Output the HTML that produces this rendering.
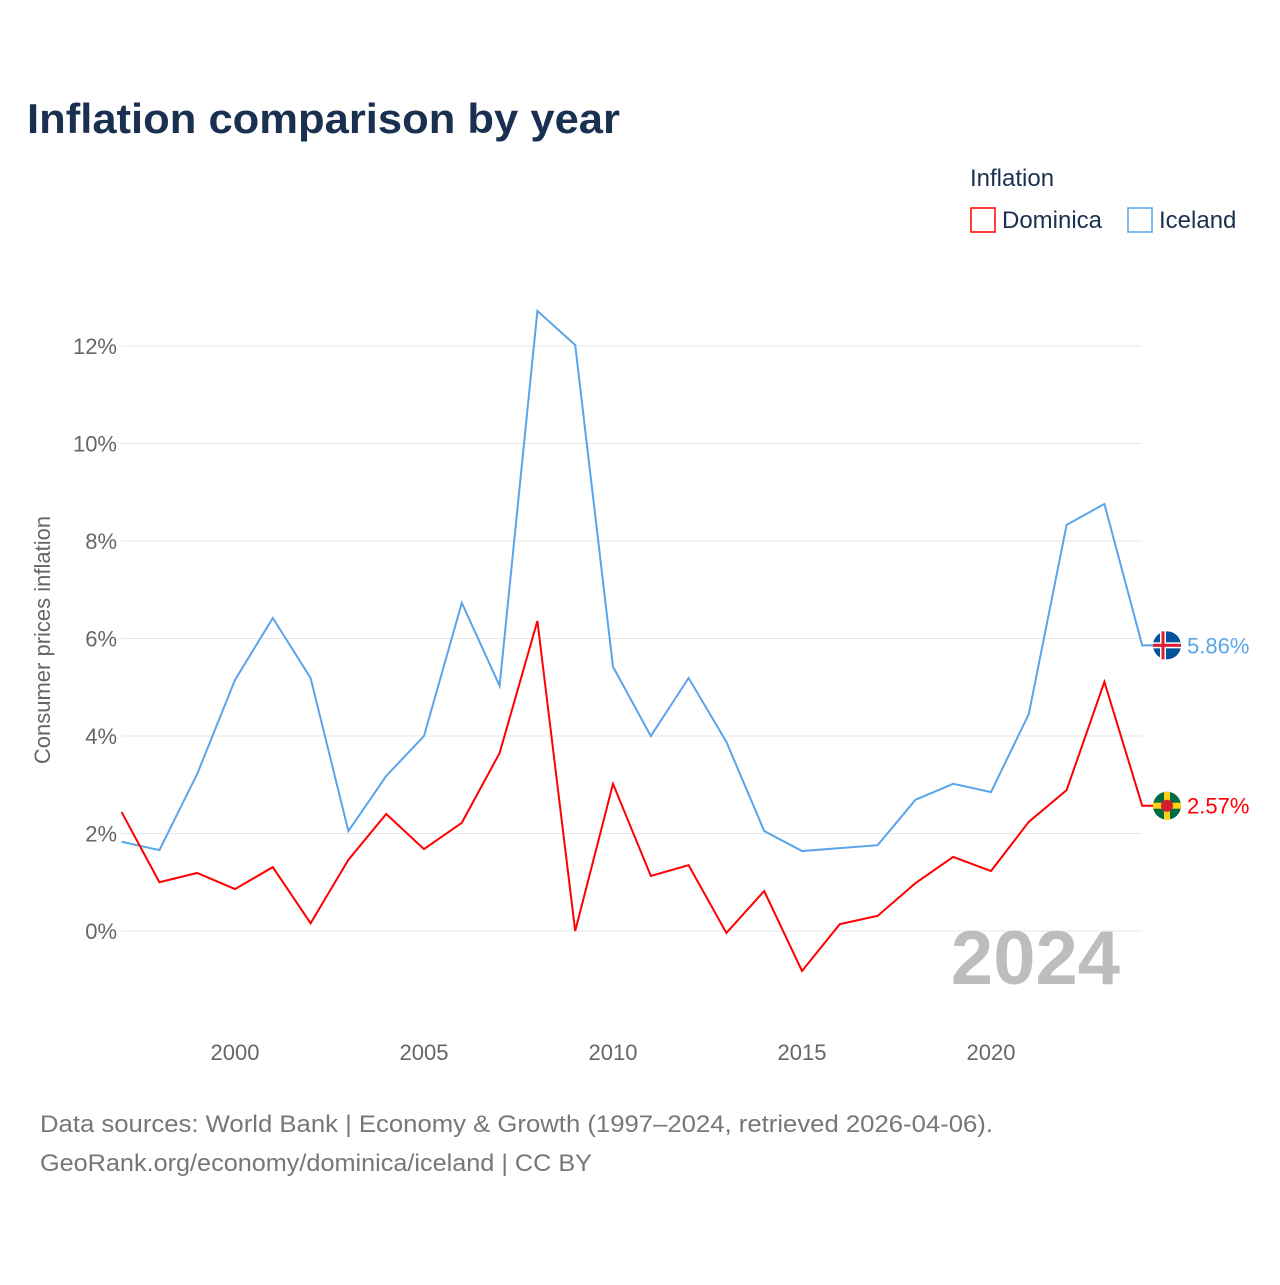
<!DOCTYPE html>
<html><head><meta charset="utf-8"><style>
body{margin:0;background:#fff;width:1280px;height:1280px;overflow:hidden;font-family:"Liberation Sans",sans-serif}
svg text{font-family:"Liberation Sans",sans-serif}
</style></head><body>
<svg id="chart" width="1280" height="1280">
<text x="27" y="133" font-size="42" font-weight="bold" fill="#1a3050" textLength="593" lengthAdjust="spacingAndGlyphs">Inflation comparison by year</text>
<text x="970" y="186" font-size="24" fill="#1a3050">Inflation</text>
<g><rect x="971" y="208" width="24" height="24" fill="none" stroke="#ff0000" stroke-width="1.5"/><text x="1002" y="228" font-size="24" fill="#1a3050">Dominica</text></g>
<g><rect x="1128" y="208" width="24" height="24" fill="none" stroke="#5aa5ea" stroke-width="1.5"/><text x="1159" y="228" font-size="24" fill="#1a3050">Iceland</text></g>
<g id="grid"></g><g id="yticks"></g><g id="xticks"></g>
<text x="1120" y="984" font-size="76" font-weight="bold" fill="#bdbdbd" text-anchor="end">2024</text>
<text transform="translate(50,640) rotate(-90)" font-size="22" fill="#666" text-anchor="middle">Consumer prices inflation</text>
<g id="series"></g>
<text x="40" y="1132" font-size="24" fill="#777" textLength="953" lengthAdjust="spacingAndGlyphs">Data sources: World Bank | Economy &amp; Growth (1997–2024, retrieved 2026-04-06).</text>
<text x="40" y="1171" font-size="24" fill="#777" textLength="552" lengthAdjust="spacingAndGlyphs">GeoRank.org/economy/dominica/iceland | CC BY</text>
</svg>
<script>
const years=[1997,1998,1999,2000,2001,2002,2003,2004,2005,2006,2007,2008,2009,2010,2011,2012,2013,2014,2015,2016,2017,2018,2019,2020,2021,2022,2023,2024];
const iceland=[1.83,1.66,3.22,5.15,6.42,5.19,2.05,3.18,4.0,6.73,5.03,12.72,12.02,5.42,4.0,5.19,3.88,2.05,1.64,1.70,1.76,2.69,3.02,2.85,4.45,8.33,8.76,5.86];
const dominica=[2.44,1.0,1.19,0.86,1.31,0.16,1.46,2.40,1.68,2.22,3.65,6.36,0.0,3.02,1.13,1.35,-0.04,0.82,-0.82,0.14,0.31,0.98,1.52,1.23,2.24,2.89,5.11,2.57];
const yTicks=[0,2,4,6,8,10,12];
const xTicks=[2000,2005,2010,2015,2020];
const NS="http://www.w3.org/2000/svg";
const x=v=>121.6+(v-1997)*37.8;
const y=v=>931-v*48.75;
function mk(t,a,p){const e=document.createElementNS(NS,t);for(const k in a)e.setAttribute(k,a[k]);p.appendChild(e);return e;}
const grid=document.getElementById('grid'),yt=document.getElementById('yticks'),xt=document.getElementById('xticks'),ser=document.getElementById('series');
yTicks.forEach(v=>{
 const l=mk('line',{x1:121,x2:1142,y1:y(v),y2:y(v),stroke:'#e6e6e6','stroke-width':1},grid);
 
 
 const t=mk('text',{x:117,y:y(v)+8,'font-size':22,fill:'#666','text-anchor':'end'},yt);
 t.textContent=v+'%';
 
 
});
xTicks.forEach(v=>{
 const t=mk('text',{x:x(v),y:1060,'font-size':22,fill:'#666','text-anchor':'middle'},xt);
 t.textContent=v;
 
 
});
function series(vals,color,name){
 const pts=vals.map((v,i)=>x(years[i])+','+y(v)).join(' ');
 const last=vals[vals.length-1];
 const p=mk('polyline',{points:pts+' '+(x(2024)+25)+','+y(last),fill:'none',stroke:color,'stroke-width':2},ser);
 
 
 const c=mk('circle',{cx:1167,cy:y(last),r:14,fill:name==='iceland'?'#02529c':'#006b3f'},ser);
 
 
 if(name==='iceland'){
  mk('rect',{x:1153,y:y(last)-3,width:28,height:6,fill:'#fff'},ser);
  mk('rect',{x:1160,y:y(last)-14,width:6,height:28,fill:'#fff'},ser);
  mk('rect',{x:1153,y:y(last)-1.5,width:28,height:3,fill:'#dc1e35'},ser);
  mk('rect',{x:1161.5,y:y(last)-14,width:3,height:28,fill:'#dc1e35'},ser);
 } else {
  mk('rect',{x:1153,y:y(last)-3,width:28,height:6,fill:'#fcd116'},ser);
  mk('rect',{x:1164,y:y(last)-14,width:6,height:28,fill:'#fcd116'},ser);
  mk('circle',{cx:1167,cy:y(last),r:6,fill:'#d41c30'},ser);
 }
 const t=mk('text',{x:1187,y:y(last)+8,'font-size':22,fill:color},ser);
 t.textContent=last.toFixed(2)+'%';
 
 
}
series(iceland,'#5aa5ea','iceland');
series(dominica,'#ff0000','dominica');
</script>
</body></html>
